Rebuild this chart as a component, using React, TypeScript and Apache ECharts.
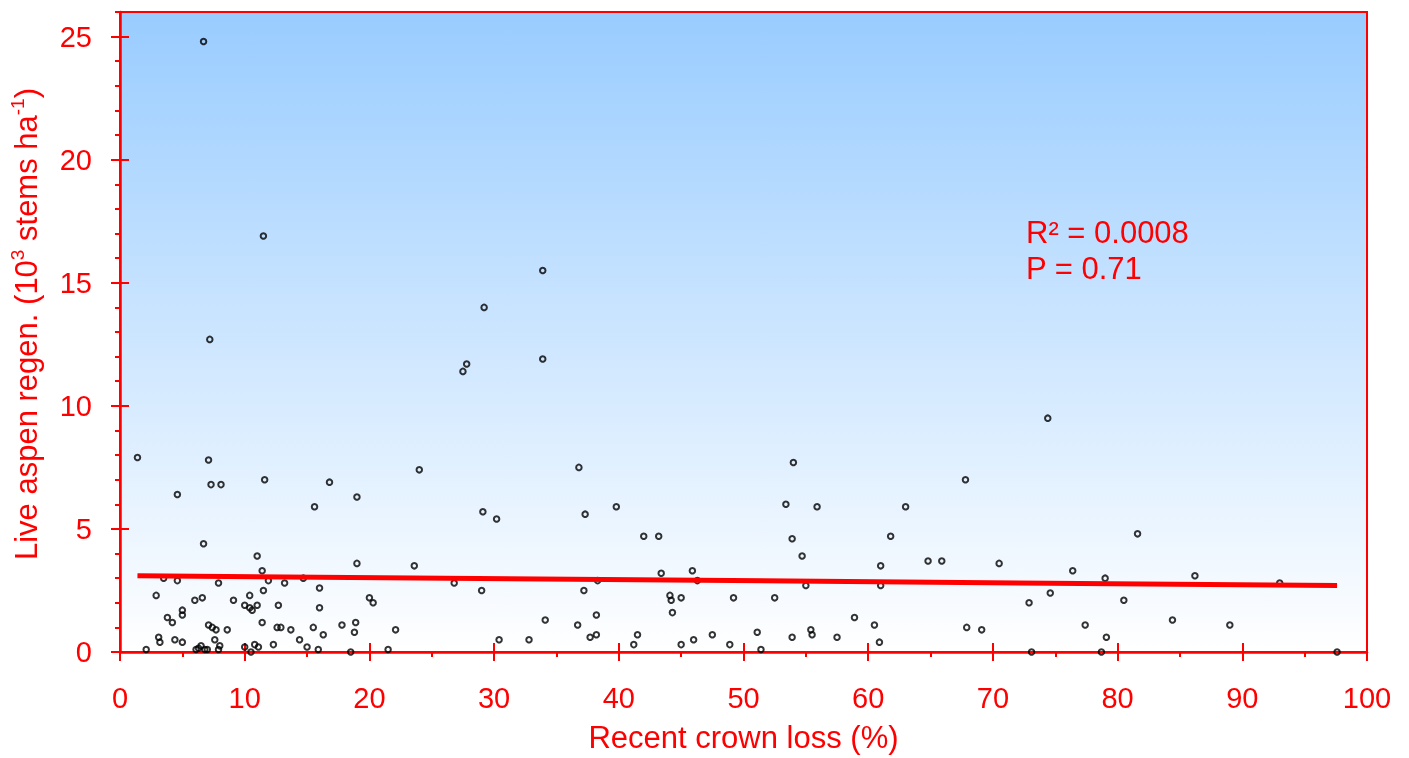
import React, { useEffect, useRef } from "react";
import * as echarts from "echarts";

const FONT = '"Liberation Sans", Arial, Helvetica, sans-serif';
const RED = "#ff0000";

// Scatter data: recent crown loss (%) and live aspen regen (10^3 stems/ha)
const crownLoss = [
  1.4, 2.1, 2.9, 3.5, 3.1, 3.2, 3.8, 4.2, 4.4, 4.6, 4.6, 5.0, 5.0, 5.0, 6.0, 6.6, 6.7, 6.7,
  7.1, 7.3, 8.1, 7.2, 7.9, 7.1, 7.4, 7.7, 8.6, 7.6, 6.1, 6.3, 6.5, 6.8, 7.0, 7.9, 8.0, 9.1,
  10.0, 10.4, 10.4, 10.6, 11.0, 11.0, 11.4, 11.5, 11.9, 11.5, 11.6, 13.2, 14.7, 11.4, 12.7,
  12.6, 12.9, 13.7, 14.4, 15.0, 15.5, 12.3, 10.0, 10.5, 10.8, 11.1,
  19.0, 23.6, 16.0, 16.0, 15.9, 16.3, 17.8, 18.9, 18.8, 18.5, 20.0, 20.3, 21.5, 22.1, 26.8,
  29.0, 30.4, 32.8, 34.1, 15.6, 16.8, 19.0, 24.0, 29.1, 30.2, 27.5, 27.8, 29.2, 33.9, 33.9,
  37.2, 38.3, 36.7, 37.7, 38.2, 38.2, 43.4, 45.9, 46.3, 44.1, 44.2, 45.0, 44.3, 41.2, 41.5,
  45.0, 46.0, 47.5, 48.9, 49.2, 51.1, 51.4, 52.5, 54.7, 55.0, 53.9, 55.4, 55.5, 57.5, 36.8,
  37.3, 39.8, 42.0, 43.2, 54.0, 53.4, 55.9, 53.9,
  61.0, 61.0, 64.8, 65.9, 70.5, 58.9, 60.5, 60.9, 67.9, 69.1, 72.9, 73.1, 74.6, 76.4, 79.0,
  77.4, 78.7, 79.1, 80.5, 84.4, 86.2, 89.0, 93.0, 97.6, 63.0, 61.8, 67.8, 74.4, 81.6,
];
const regen = [
  7.9, 0.1, 2.3, 3.0, 0.6, 0.4, 1.4, 1.2, 0.5, 6.4, 2.9, 0.4, 1.7, 1.5, 2.1, 2.2, 4.4, 24.8,
  7.8, 6.8, 6.8, 12.7, 2.8, 1.1, 1.0, 0.9, 0.9, 0.5, 0.1, 0.15, 0.25, 0.1, 0.1, 0.1, 0.25, 2.1,
  1.9, 2.3, 1.8, 1.7, 1.9, 3.9, 3.3, 2.5, 2.9, 16.9, 7.0, 2.8, 3.0, 1.2, 1.9,
  1.0, 1.0, 0.9, 0.5, 0.2, 1.0, 0.3, 0.2, 0.0, 0.3, 0.2,
  3.6, 3.5, 2.6, 1.8, 0.1, 0.7, 1.1, 1.2, 0.8, 0.0, 2.2, 2.0, 0.1, 0.9, 2.8,
  2.5, 0.5, 0.5, 1.3, 5.9, 6.9, 6.3, 7.4, 5.7, 5.4, 11.4, 11.7, 14.0, 15.5, 11.9,
  2.5, 2.9, 1.1, 0.6, 0.7, 1.5, 3.2, 3.3, 2.9, 2.3, 2.1, 2.2, 1.6, 0.3, 0.7,
  0.3, 0.5, 0.7, 0.3, 2.2, 0.8, 0.1, 2.2, 3.9, 2.7, 0.6, 0.9, 0.7, 0.6, 7.5,
  5.6, 5.9, 4.7, 4.7, 7.7, 6.0, 5.9, 4.6,
  3.5, 2.7, 3.7, 3.7, 3.6, 1.4, 1.1, 0.4, 1.0, 0.9, 2.0, 0.0, 2.4, 3.3, 3.0,
  1.1, 0.0, 0.6, 2.1, 1.3, 3.1, 1.1, 2.8, 0.0, 5.9, 4.7, 7.0, 9.5, 4.8,
];

// Regression line end points
const regX = [1.4, 97.6];
const regY = [3.1, 2.7];

// Axis ticks
const xMajor = [0, 10, 20, 30, 40, 50, 60, 70, 80, 90, 100];
const yMajor = [0, 5, 10, 15, 20, 25];

const statsLines = ["R\u00b2 = 0.0008", "P = 0.71"];

export default function App() {
  const ref = useRef<HTMLDivElement>(null);
  useEffect(() => {
    if (!ref.current) return;
    const chart = echarts.init(ref.current, undefined, { renderer: "svg" });
    const points = crownLoss.map((x, i) => [x, regen[i]]);
    const line = regX.map((x, i) => [x, regY[i]]);
    const baseX = { type: "value", min: 0, max: 100, gridIndex: 0, position: "bottom", splitLine: { show: false } };
    const baseY = { type: "value", min: 0, max: 26, gridIndex: 0, position: "left", splitLine: { show: false } };
    chart.setOption({
      animation: false,
      grid: {
        left: 120,
        right: 42,
        top: 12,
        bottom: 104,
        show: true,
        borderColor: RED,
        borderWidth: 2,
        backgroundColor: new echarts.graphic.LinearGradient(0, 0, 0, 1, [
          { offset: 0, color: "#99ccff" },
          { offset: 1, color: "#ffffff" },
        ]),
      },
      xAxis: [
        {
          ...baseX,
          name: "Recent crown loss (%)",
          nameLocation: "middle",
          nameGap: 70,
          nameTextStyle: { color: RED, fontSize: 31, fontFamily: FONT },
          axisLine: { show: true, lineStyle: { color: RED, width: 2.5 } },
          axisTick: { show: true, customValues: xMajor, length: 9, lineStyle: { color: RED, width: 2 } },
          axisLabel: { customValues: xMajor, color: RED, fontSize: 29, fontFamily: FONT, margin: 31 },
        },
        {
          ...baseX,
          interval: 5,
          axisLine: { show: false },
          axisTick: { show: true, length: 5, lineStyle: { color: RED, width: 2 } },
          axisLabel: { show: false },
        },
        {
          ...baseX,
          axisLine: { show: false },
          axisTick: { show: true, inside: true, customValues: xMajor, length: 9, lineStyle: { color: RED, width: 2 } },
          axisLabel: { show: false },
        },
      ],
      yAxis: [
        {
          ...baseY,
          name: "{n|Live aspen regen. (10}{s|3}{n| stems ha}{s|-1}{n|)}",
          nameLocation: "middle",
          nameGap: 76,
          nameTextStyle: {
            color: RED,
            fontSize: 31,
            fontFamily: FONT,
            padding: [0, 0, 0, 16],
            rich: {
              n: { color: RED, fontSize: 31, fontFamily: FONT, lineHeight: 36 },
              s: { color: RED, fontSize: 19, fontFamily: FONT, verticalAlign: "top", lineHeight: 36 },
            },
          },
          axisLine: { show: true, lineStyle: { color: RED, width: 2.5 } },
          axisTick: { show: true, customValues: yMajor, length: 9, lineStyle: { color: RED, width: 2 } },
          axisLabel: { customValues: yMajor, color: RED, fontSize: 29, fontFamily: FONT, margin: 28 },
        },
        {
          ...baseY,
          interval: 1,
          axisLine: { show: false },
          axisTick: { show: true, length: 5, lineStyle: { color: RED, width: 2 } },
          axisLabel: { show: false },
        },
        {
          ...baseY,
          axisLine: { show: false },
          axisTick: { show: true, inside: true, customValues: yMajor, length: 9, lineStyle: { color: RED, width: 2 } },
          axisLabel: { show: false },
        },
      ],
      graphic: [
        {
          type: "text",
          left: 1026,
          top: 214,
          style: {
            text: statsLines.join("\n"),
            fill: RED,
            font: `31px ${FONT}`,
            lineHeight: 36,
          },
        },
      ],
      series: [
        {
          type: "scatter",
          xAxisIndex: 0,
          yAxisIndex: 0,
          data: points,
          symbol: "circle",
          symbolSize: 5.5,
          itemStyle: { color: "rgba(255,255,255,0)", borderColor: "#000", borderWidth: 2 },
          z: 3,
        },
        {
          type: "line",
          xAxisIndex: 0,
          yAxisIndex: 0,
          data: line,
          showSymbol: false,
          symbol: "none",
          lineStyle: { color: RED, width: 5 },
          z: 4,
        },
      ],
    });
    return () => chart.dispose();
  }, []);
  return (
    <div
      ref={ref}
      style={{ position: "fixed", left: 0, top: 0, width: 1409, height: 758 }}
    />
  );
}
